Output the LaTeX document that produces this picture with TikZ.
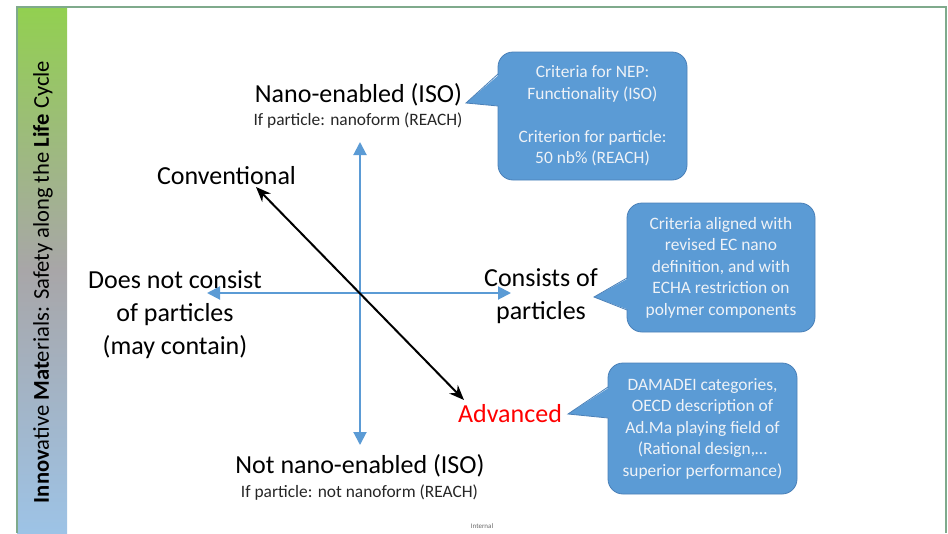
\documentclass[tikz,border=0pt]{standalone}
\usepackage{fontspec}
\setmainfont{Carlito}
\usetikzlibrary{arrows.meta}
\definecolor{axisblue}{HTML}{5B9BD5}
\definecolor{calloutfill}{HTML}{5B9BD5}
\definecolor{calloutedge}{HTML}{4A80B8}
\definecolor{callouttext}{HTML}{EEF2F7}
\definecolor{framegreen}{HTML}{7FAA8C}
\definecolor{bargreen}{HTML}{92D050}
\definecolor{bargray}{HTML}{A8A6A8}
\definecolor{barblue}{HTML}{9DC3E6}
\definecolor{advred}{HTML}{FF0000}
\begin{document}
\begin{tikzpicture}[x=1pt,y=-1pt,
  axis/.style={axisblue, line width=2pt, {Triangle[length=13pt,width=13pt]}-{Triangle[length=13pt,width=13pt]}},
  diag/.style={black, line width=2pt, {Stealth[length=15pt,width=12pt]}-{Stealth[length=15pt,width=12pt]}},
  biglabel/.style={inner sep=0pt, align=center, font=\fontsize{26}{33}\selectfont},
  sublabel/.style={inner sep=0pt, anchor=base, text=black!85, font=\fontsize{17.4}{21}\selectfont},
  callout/.style={draw=calloutedge, line width=0.8pt, fill=calloutfill, rounded corners=15pt,
    text=callouttext, align=center, inner sep=0pt, font=\fontsize{17.4}{21.5}\selectfont},
  wedgefill/.style={fill=calloutfill},
  wedgeedge/.style={draw=calloutedge, line width=0.8pt, line join=miter}]
\useasboundingbox (0,0) rectangle (948,533);

% side bar with its title
\shade[top color=bargreen, bottom color=barblue, middle color=bargray] (17,7) rectangle (67,533);
\node[rotate=90, inner sep=0pt, font=\fontsize{22.6}{27}\selectfont] (title) at (43,282)
  {\textbf{Innov}ative \textbf{Mat}erials: Safety along the \textbf{Life} Cycle};

% slide frame
\draw[framegreen, line width=2.5pt] (17,533) -- (17,7) -- (946,7) -- (946,533);

% axes
\coordinate (O) at (360,293);
\coordinate (top) at (360,142);
\coordinate (bottom) at (360,445);
\coordinate (left) at (207,293);
\coordinate (right) at (511,293);
\coordinate (conv) at (256,187);
\coordinate (adv) at (464,400);
\draw[axis] (top) -- (bottom);
\draw[axis] (left) -- (right);
\draw[diag] (conv) -- (adv);

% axis labels
\node[biglabel, anchor=base] (nano) at (358.5,102) {Nano-enabled (ISO)};
\node[sublabel] (nanosub) at (358,125) {If particle: nanoform (REACH)};
\node[biglabel, anchor=base] (convl) at (226.5,184) {Conventional};
\node[biglabel] (nopart) at (175,315) {Does not consist\\of particles\\(may contain)};
\node[biglabel] (part) at (541,296) {Consists of\\particles};
\node[biglabel, anchor=base, text=advred] (advl) at (510,422) {Advanced};
\node[biglabel, anchor=base] (notnano) at (360,473) {Not nano-enabled (ISO)};
\node[sublabel] (notnanosub) at (359.5,497) {If particle: not nanoform (REACH)};

% callouts
\node[callout, minimum width=189pt, minimum height=128pt] (c1) at (592.5,116)
  {Criteria for NEP:\\Functionality (ISO)\\[21.5pt]Criterion for particle:\\50 nb\% (REACH)};
\coordinate (t1) at (466,103);
\fill[wedgefill] (500,74) -- (t1) -- (500,106) -- cycle;
\draw[wedgeedge] (498,74) -- (t1) -- (498,106);

\node[callout, minimum width=188pt, minimum height=129pt] (c2) at (721,267.5)
  {Criteria aligned with\\revised EC nano\\definition, and with\\ECHA restriction on\\polymer components};
\coordinate (t2) at (594,297);
\fill[wedgefill] (629,278) -- (t2) -- (629,310) -- cycle;
\draw[wedgeedge] (627,278) -- (t2) -- (627,310);

\node[callout, minimum width=189pt, minimum height=131pt] (c3) at (702.5,428.5)
  {DAMADEI categories,\\OECD description of\\Ad.Ma playing field of\\(Rational design,…\\superior performance)};
\coordinate (t3) at (568,414);
\fill[wedgefill] (610,387) -- (t3) -- (610,418) -- cycle;
\draw[wedgeedge] (608,387) -- (t3) -- (608,418);

% classification mark
\node[inner sep=0pt, text=black!60, font=\fontsize{7}{8}\selectfont] (mark) at (482,526) {Internal};
\end{tikzpicture}
\end{document}
